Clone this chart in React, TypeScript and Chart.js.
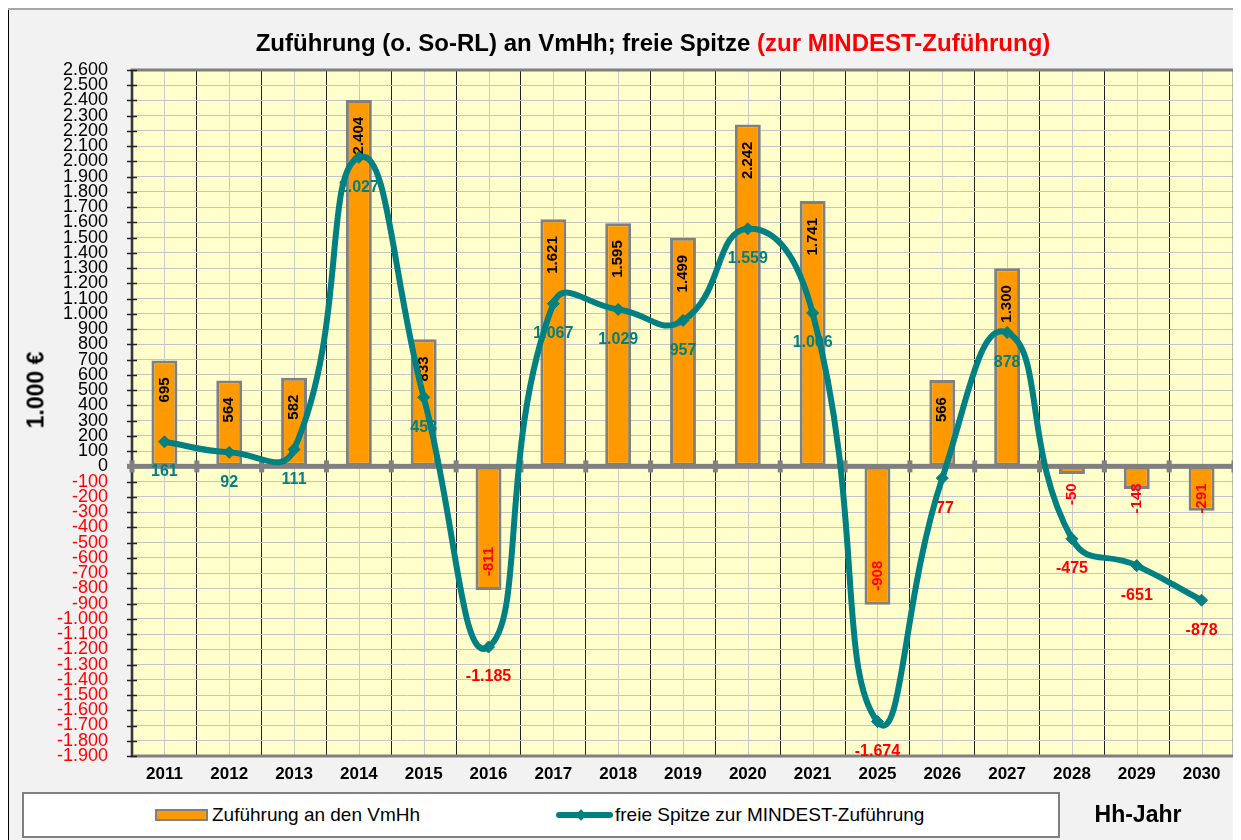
import React, { useEffect, useRef } from "react";
import { Chart, registerables } from "chart.js";

Chart.register(...registerables);

const FONT = '"Liberation Sans", Arial, Helvetica, sans-serif';

const years = ["2011", "2012", "2013", "2014", "2015", "2016", "2017", "2018", "2019", "2020", "2021", "2025", "2026", "2027", "2028", "2029", "2030"];
const zufuehrung = [695, 564, 582, 2404, 833, -811, 1621, 1595, 1499, 2242, 1741, -908, 566, 1300, -50, -148, -291];
const freieSpitze = [161, 92, 111, 2027, 453, -1185, 1067, 1029, 957, 1559, 1006, -1674, -77, 878, -475, -651, -878];
const yMin = -1900;
const yMax = 2600;
const yStep = 100;

const ORANGE = "#FF9900";
const TEAL = "#008080";
const RED = "#FF0000";
const GRAY = "#808080";

function fmt(v: number): string {
  const s = Math.abs(Math.round(v)).toString().replace(/\B(?=(\d{3})+(?!\d))/g, ".");
  return (v < 0 ? "-" : "") + s;
}

const decorPlugin = {
  id: "decor",
  beforeDraw(chart: any) {
    const { ctx, chartArea: a } = chart;
    ctx.save();
    ctx.fillStyle = "#FFFFCC";
    ctx.fillRect(a.left, a.top, a.right - a.left, a.bottom - a.top);
    ctx.restore();
  },
  beforeDatasetsDraw(chart: any) {
    const { ctx, chartArea: a } = chart;
    const xs = chart.scales.x;
    const ys = chart.scales.y;
    const n = years.length;
    ctx.save();
    ctx.strokeStyle = "#c8c8c8";
    ctx.lineWidth = 1;
    for (let i = 0; i < n; i++) {
      const cx = Math.round(xs.getPixelForValue(i)) + 0.5;
      ctx.beginPath();
      ctx.moveTo(cx, a.top);
      ctx.lineTo(cx, a.bottom);
      ctx.stroke();
    }
    ctx.strokeStyle = GRAY;
    ctx.lineWidth = 3;
    ctx.strokeRect(a.left, a.top, a.right - a.left, a.bottom - a.top);
    ctx.strokeStyle = "#222";
    ctx.lineWidth = 1.5;
    ctx.beginPath();
    ctx.moveTo(a.left, a.top);
    ctx.lineTo(a.left, a.bottom);
    ctx.stroke();
    for (let v = yMin; v <= yMax; v += yStep) {
      const py = Math.round(ys.getPixelForValue(v)) + 0.5;
      ctx.beginPath();
      ctx.moveTo(a.left - 5, py);
      ctx.lineTo(a.left + 5, py);
      ctx.stroke();
    }
    const zy = ys.getPixelForValue(0);
    ctx.fillStyle = GRAY;
    ctx.fillRect(a.left - 5, zy - 2.5, a.right - a.left + 5, 5);
    const w = (a.right - a.left) / n;
    for (let i = 0; i <= n; i++) {
      const bx = a.left + i * w;
      ctx.fillRect(bx - 2.5, zy - 6, 5, 12);
    }
    ctx.restore();
  },
  afterDatasetDraw(chart: any, args: any) {
    if (args.index !== 0) return;
    const { ctx } = chart;
    const ys = chart.scales.y;
    const zy = ys.getPixelForValue(0);
    const barMeta = chart.getDatasetMeta(0);
    const lineMeta = chart.getDatasetMeta(1);
    ctx.save();
    ctx.font = `bold 15px ${FONT}`;
    ctx.textBaseline = "middle";
    barMeta.data.forEach((el: any, i: number) => {
      const v = zufuehrung[i];
      const txt = fmt(v);
      const tw = ctx.measureText(txt).width;
      ctx.save();
      if (v >= 0) {
        const yEnd = Math.min(el.y + 17, zy - 17 - tw);
        ctx.translate(el.x, yEnd);
        ctx.rotate(-Math.PI / 2);
        ctx.fillStyle = "#000";
        ctx.textAlign = "right";
        ctx.fillText(txt, 0, 0);
      } else {
        const yStart = Math.max(el.y - 14, zy + 17 + tw);
        ctx.translate(el.x, yStart);
        ctx.rotate(-Math.PI / 2);
        ctx.fillStyle = RED;
        ctx.textAlign = "left";
        ctx.fillText(txt, 0, 0);
      }
      ctx.restore();
    });
    ctx.font = `bold 16px ${FONT}`;
    ctx.textAlign = "center";
    ctx.textBaseline = "middle";
    lineMeta.data.forEach((pt: any, i: number) => {
      const v = freieSpitze[i];
      ctx.fillStyle = v < 0 ? RED : TEAL;
      ctx.fillText(fmt(v), pt.x, pt.y + 30);
    });
    ctx.restore();
  },
};

export default function App() {
  const ref = useRef<HTMLCanvasElement>(null);

  useEffect(() => {
    const chart = new Chart(ref.current as HTMLCanvasElement, {
      type: "bar",
      data: {
        labels: years,
        datasets: [
          {
            type: "bar",
            label: "Zuführung an den VmHh",
            data: zufuehrung,
            backgroundColor: ORANGE,
            borderColor: GRAY,
            borderWidth: 3,
            borderSkipped: false,
            barPercentage: 0.4,
            categoryPercentage: 1,
            order: 2,
          } as any,
          {
            type: "line",
            label: "freie Spitze zur MINDEST-Zuführung",
            data: freieSpitze,
            borderColor: TEAL,
            borderWidth: 6,
            tension: 0.5,
            fill: false,
            pointStyle: "rectRot",
            pointRadius: 6,
            pointBackgroundColor: TEAL,
            pointBorderColor: TEAL,
            pointBorderWidth: 1,
            order: 1,
          } as any,
        ],
      },
      options: {
        animation: false,
        responsive: false,
        devicePixelRatio: 1,
        layout: { padding: { left: 0, right: 5, top: 62, bottom: 54 } },
        plugins: {
          legend: { display: false },
          title: { display: false },
          tooltip: { enabled: false },
        },
        scales: {
          x: {
            offset: true,
            grid: { offset: true, color: "#222", lineWidth: 1, drawTicks: false },
            border: { display: false },
            ticks: {
              color: "#000",
              font: { family: FONT, size: 17, weight: "bold" },
              padding: 8,
              maxRotation: 0,
              autoSkip: false,
            },
            afterFit(s: any) {
              s.height = 30;
            },
          },
          y: {
            min: yMin,
            max: yMax,
            grid: { color: "#c4c4c4", lineWidth: 1, drawTicks: false },
            border: { display: false },
            ticks: {
              stepSize: yStep,
              autoSkip: false,
              maxTicksLimit: 100,
              padding: 24,
              color: (c: any) => (c.tick && c.tick.value < 0 ? RED : "#000"),
              font: { family: FONT, size: 18 },
              callback: (v: any) => fmt(Number(v)),
            },
            afterFit(s: any) {
              s.width = 124;
            },
          },
        },
      } as any,
      plugins: [decorPlugin],
    });
    return () => chart.destroy();
  }, []);

  return (
    <div
      style={{
        position: "relative",
        width: 1233,
        height: 832,
        background: "#f2f2f2",
        overflow: "hidden",
        fontFamily: FONT,
      }}
    >
      <style>{`body{overflow:hidden}`}</style>
      <canvas ref={ref} width={1233} height={832} style={{ position: "absolute", left: 0, top: 0, width: 1233, height: 832 }} />
      <div style={{ position: "absolute", left: 0, top: 0, width: 1, height: 832, background: "#000" }} />
      <div style={{ position: "absolute", left: 0, top: 0, width: 1233, height: 2, background: "#a6a6a6" }} />
      <div
        style={{
          position: "absolute",
          left: 645,
          top: 35,
          transform: "translate(-50%, -50%)",
          whiteSpace: "nowrap",
          fontSize: 24,
          fontWeight: "bold",
          color: "#000",
        }}
      >
        Zuführung (o. So-RL) an VmHh; freie Spitze <span style={{ color: RED }}>(zur MINDEST-Zuführung)</span>
      </div>
      <div
        style={{
          position: "absolute",
          left: 28,
          top: 382,
          transform: "translate(-50%, -50%) rotate(-90deg)",
          whiteSpace: "nowrap",
          fontSize: 23,
          fontWeight: "bold",
          color: "#000",
        }}
      >
        1.000 €
      </div>
      <div
        style={{
          position: "absolute",
          left: 14,
          top: 784,
          width: 1038,
          height: 46,
          boxSizing: "border-box",
          border: `2px solid ${GRAY}`,
          background: "#fff",
        }}
      />
      <div
        style={{
          position: "absolute",
          left: 147,
          top: 801,
          width: 53,
          height: 12,
          boxSizing: "border-box",
          border: `2px solid ${GRAY}`,
          background: ORANGE,
        }}
      />
      <div style={{ position: "absolute", left: 204, top: 796, fontSize: 19, lineHeight: "22px", whiteSpace: "nowrap", color: "#000" }}>
        Zuführung an den VmHh
      </div>
      <div style={{ position: "absolute", left: 548, top: 804, width: 57, height: 6, background: TEAL, borderRadius: 3 }} />
      <div style={{ position: "absolute", left: 569, top: 803, width: 8, height: 8, background: TEAL, transform: "rotate(45deg)" }} />
      <div style={{ position: "absolute", left: 607, top: 796, fontSize: 19, lineHeight: "22px", whiteSpace: "nowrap", color: "#000" }}>
        freie Spitze zur MINDEST-Zuführung
      </div>
      <div
        style={{
          position: "absolute",
          left: 1130,
          top: 806,
          transform: "translate(-50%, -50%)",
          whiteSpace: "nowrap",
          fontSize: 23,
          fontWeight: "bold",
          color: "#000",
        }}
      >
        Hh-Jahr
      </div>
    </div>
  );
}
